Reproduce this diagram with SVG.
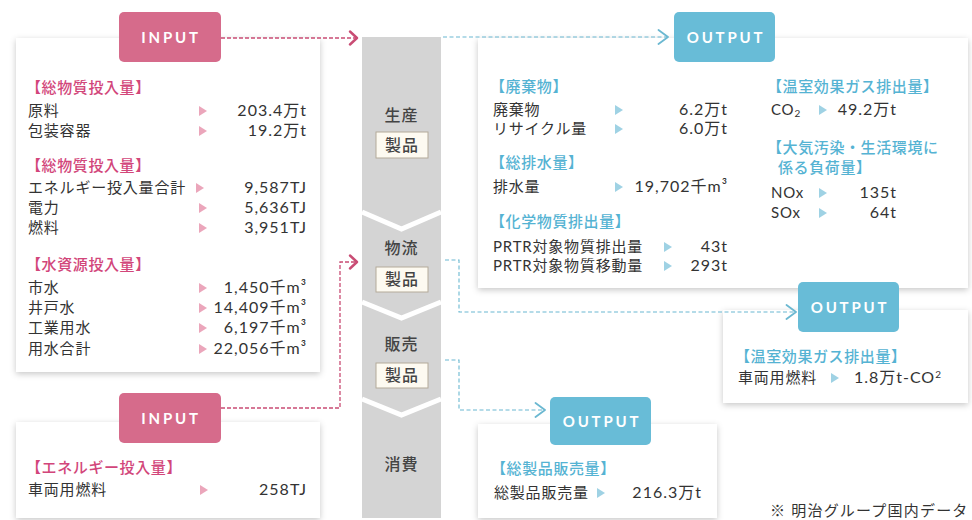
<svg xmlns="http://www.w3.org/2000/svg" width="972" height="520" viewBox="0 0 972 520">
<defs>
<filter id="sh" x="-10%" y="-10%" width="120%" height="130%">
<feDropShadow dx="0" dy="2" stdDeviation="3" flood-color="#000" flood-opacity="0.22"/>
</filter>
<marker id="ap" markerUnits="userSpaceOnUse" markerWidth="14" markerHeight="18" refX="9" refY="8" orient="auto">
<path d="M2,1.5 L9,8 L2,14.5" fill="none" stroke="#c94c74" stroke-width="2.4" stroke-linecap="round" stroke-linejoin="round"/>
</marker>
<marker id="at" markerUnits="userSpaceOnUse" markerWidth="14" markerHeight="18" refX="11" refY="8" orient="auto">
<path d="M1.5,1 L11,8 L1.5,15" fill="none" stroke="#6bb8d1" stroke-width="1.8" stroke-linecap="round" stroke-linejoin="round"/>
</marker>
</defs>
<style>
text{font-family:Lato,"Noto Sans CJK JP",sans-serif;}
.card{fill:#fff;filter:url(#sh);}
.tabI{fill:#d66b8b;}
.tabO{fill:#68bcd7;}
.tabt{fill:#fff;font-size:15px;font-weight:bold;letter-spacing:2.8px;text-anchor:middle;}
.hp{fill:#d2467a;font-size:15px;letter-spacing:0.6px;font-weight:500;}
.ht{fill:#55b3d3;font-size:15px;letter-spacing:0.6px;font-weight:500;}
.b{fill:#333;font-size:15px;letter-spacing:0.8px;}
.v{fill:#333;font-size:16px;letter-spacing:1px;text-anchor:end;}
.trp{fill:#eba6bb;}
.trt{fill:#9fd2e4;}
.mid{fill:#444;font-size:16px;font-weight:500;text-anchor:middle;letter-spacing:1px;}
.pbox{fill:#fdfaf1;stroke:#b3aa99;stroke-width:1;}
.pc{fill:none;stroke:#c94c74;stroke-width:1.3;stroke-dasharray:4 2;}
.tc{fill:none;stroke:#6bb8d1;stroke-width:1.1;stroke-dasharray:4 2.5;}
.note{fill:#333;font-size:15px;letter-spacing:1.2px;}
</style>

<g id="flow-column">
<rect x="362" y="37" width="79" height="481" fill="#d4d4d4"/>
<polyline points="362,212 401.5,229 441,212" fill="none" stroke="#fff" stroke-width="5"/>
<polyline points="362,302 401.5,318 441,302" fill="none" stroke="#fff" stroke-width="5"/>
<polyline points="362,399 401.5,415 441,399" fill="none" stroke="#fff" stroke-width="5"/>
</g>

<g id="stage-production">
<text class="mid" x="401.5" y="121">生産</text>
<rect class="pbox" x="376" y="132" width="52" height="26"/>
<text class="mid" x="402" y="151">製品</text>
</g>
<g id="stage-logistics">
<text class="mid" x="401.5" y="254">物流</text>
<rect class="pbox" x="376" y="267" width="52" height="25"/>
<text class="mid" x="402" y="285">製品</text>
</g>
<g id="stage-sales">
<text class="mid" x="401.5" y="350">販売</text>
<rect class="pbox" x="376" y="363" width="52" height="25"/>
<text class="mid" x="402" y="381">製品</text>
</g>
<g id="stage-consumption">
<text class="mid" x="401.5" y="470">消費</text>
</g>

<g id="input-main">
<rect class="card" x="16" y="38" width="304" height="334"/>
<rect class="tabI" x="119" y="12" width="102" height="50" rx="5"/>
<text class="tabt" x="171" y="43">INPUT</text>
<text class="hp" x="26" y="93">【総物質投入量】</text>
<text class="b" x="28" y="116">原料</text>
<polygon class="trp" points="199,106 207,111 199,116"/>
<text class="v" x="307" y="116">203.4万t</text>
<text class="b" x="28" y="136">包装容器</text>
<polygon class="trp" points="199,126 207,131 199,136"/>
<text class="v" x="307" y="136">19.2万t</text>
<text class="hp" x="26" y="171">【総物質投入量】</text>
<text class="b" x="28" y="193">エネルギー投入量合計</text>
<polygon class="trp" points="196,183 204,188 196,193"/>
<text class="v" x="307" y="193">9,587TJ</text>
<text class="b" x="28" y="213">電力</text>
<polygon class="trp" points="199,203 207,208 199,213"/>
<text class="v" x="307" y="213">5,636TJ</text>
<text class="b" x="28" y="233">燃料</text>
<polygon class="trp" points="199,223 207,228 199,233"/>
<text class="v" x="307" y="233">3,951TJ</text>
<text class="hp" x="26" y="270">【水資源投入量】</text>
<text class="b" x="28" y="293">市水</text>
<polygon class="trp" points="199,283 207,288 199,293"/>
<text class="v" x="307" y="293">1,450千m³</text>
<text class="b" x="28" y="313">井戸水</text>
<polygon class="trp" points="199,303 207,308 199,313"/>
<text class="v" x="307" y="313">14,409千m³</text>
<text class="b" x="28" y="333">工業用水</text>
<polygon class="trp" points="199,323 207,328 199,333"/>
<text class="v" x="307" y="333">6,197千m³</text>
<text class="b" x="28" y="354">用水合計</text>
<polygon class="trp" points="199,344 207,349 199,354"/>
<text class="v" x="307" y="354">22,056千m³</text>
</g>

<g id="input-vehicle">
<rect class="card" x="16" y="422" width="304" height="96"/>
<rect class="tabI" x="119" y="393" width="102" height="50" rx="5"/>
<text class="tabt" x="171" y="424">INPUT</text>
<text class="hp" x="26" y="473">【エネルギー投入量】</text>
<text class="b" x="28" y="495">車両用燃料</text>
<polygon class="trp" points="200,485 208,490 200,495"/>
<text class="v" x="307" y="495">258TJ</text>
</g>

<g id="output-production">
<rect class="card" x="478" y="38" width="490" height="250"/>
<rect class="tabO" x="674" y="12" width="101" height="50" rx="5"/>
<text class="tabt" x="726" y="43">OUTPUT</text>
<text class="ht" x="490" y="92">【廃棄物】</text>
<text class="b" x="493" y="115">廃棄物</text>
<polygon class="trt" points="615,105 623,110 615,115"/>
<text class="v" x="728" y="115">6.2万t</text>
<text class="b" x="493" y="134">リサイクル量</text>
<polygon class="trt" points="615,124 623,129 615,134"/>
<text class="v" x="728" y="134">6.0万t</text>
<text class="ht" x="490" y="168">【総排水量】</text>
<text class="b" x="493" y="192">排水量</text>
<polygon class="trt" points="615,182 623,187 615,192"/>
<text class="v" x="728" y="192">19,702千m³</text>
<text class="ht" x="490" y="227">【化学物質排出量】</text>
<text class="b" x="493" y="252">PRTR対象物質排出量</text>
<polygon class="trt" points="664,242 672,247 664,252"/>
<text class="v" x="728" y="252">43t</text>
<text class="b" x="493" y="271">PRTR対象物質移動量</text>
<polygon class="trt" points="664,261 672,266 664,271"/>
<text class="v" x="728" y="271">293t</text>
<text class="ht" x="767" y="92">【温室効果ガス排出量】</text>
<text class="b" x="771" y="115">CO<tspan font-size="10" dy="2">2</tspan></text>
<polygon class="trt" points="819,105 827,110 819,115"/>
<text class="v" x="897" y="115">49.2万t</text>
<text class="ht" x="767" y="153">【大気汚染・生活環境に</text>
<text class="ht" x="778" y="173">係る負荷量】</text>
<text class="b" x="771" y="198">NOx</text>
<polygon class="trt" points="819,188 827,193 819,198"/>
<text class="v" x="897" y="198">135t</text>
<text class="b" x="771" y="218">SOx</text>
<polygon class="trt" points="819,208 827,213 819,218"/>
<text class="v" x="897" y="218">64t</text>
</g>

<g id="output-logistics">
<rect class="card" x="723" y="310" width="245" height="93"/>
<rect class="tabO" x="798" y="282" width="101" height="50" rx="5"/>
<text class="tabt" x="850" y="313">OUTPUT</text>
<text class="ht" x="735" y="362">【温室効果ガス排出量】</text>
<text class="b" x="738" y="383">車両用燃料</text>
<polygon class="trt" points="831,373 839,378 831,383"/>
<text class="v" x="942" y="383">1.8万t-CO<tspan font-size="10" dy="-5">2</tspan></text>
</g>

<g id="output-sales">
<rect class="card" x="478" y="424" width="239" height="94"/>
<rect class="tabO" x="550" y="397" width="101" height="48" rx="5"/>
<text class="tabt" x="602" y="427">OUTPUT</text>
<text class="ht" x="491" y="474">【総製品販売量】</text>
<text class="b" x="494" y="498">総製品販売量</text>
<polygon class="trt" points="597,488 605,493 597,498"/>
<text class="v" x="702" y="498">216.3万t</text>
</g>

<g id="connectors">
<path class="pc" d="M221,38 H357" marker-end="url(#ap)"/>
<path class="pc" d="M221,408 H340 V262 H357" marker-end="url(#ap)"/>
<path class="tc" d="M443,37 H668" marker-end="url(#at)"/>
<path class="tc" d="M445,260 H459 V312 H796" marker-end="url(#at)"/>
<path class="tc" d="M445,360 H459 V410 H545" marker-end="url(#at)"/>
</g>

<text class="note" x="770" y="516">※ 明治グループ国内データ</text>
</svg>
